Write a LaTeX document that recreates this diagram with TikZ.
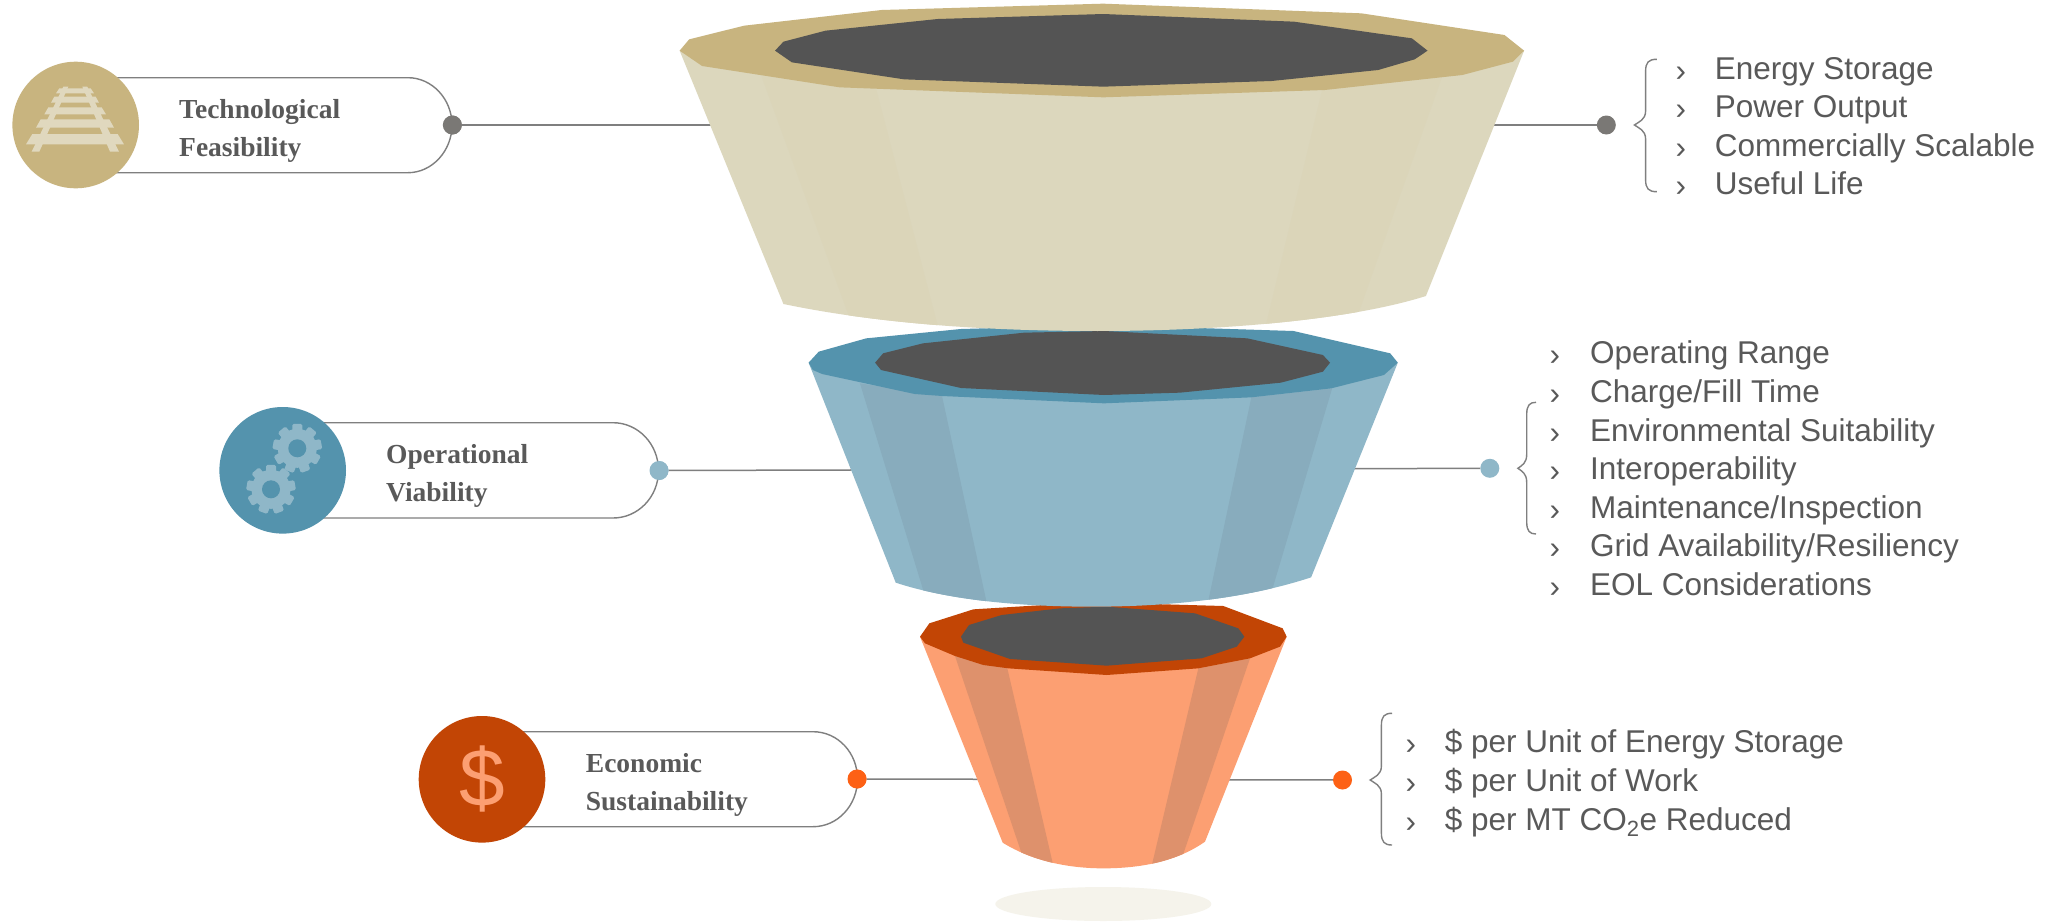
\documentclass[tikz,border=0pt]{standalone}
\usepackage{fontspec}
\setmainfont{Liberation Sans}
\newfontfamily\serifb[BoldFont={Liberation Serif Bold}]{Liberation Serif}
\definecolor{txt}{HTML}{595959}
\definecolor{linec}{HTML}{7F7F7F}
\definecolor{darkc}{HTML}{545454}
\definecolor{tanring}{HTML}{C8B47F}
\definecolor{tanbody}{HTML}{DCD7BD}
\definecolor{tanband}{HTML}{DBD5B9}
\definecolor{tanicon}{HTML}{E0D8BE}
\definecolor{bluering}{HTML}{5493AD}
\definecolor{bluebody}{HTML}{8FB7C8}
\definecolor{blueband}{HTML}{88ACBD}
\definecolor{orring}{HTML}{C24505}
\definecolor{orbody}{HTML}{FC9F72}
\definecolor{orband}{HTML}{DE916C}
\definecolor{ordot}{HTML}{FD6115}
\definecolor{greydot}{HTML}{7A7875}
\definecolor{shadowc}{HTML}{F5F3EB}
\tikzset{
  x=1pt,y=-1pt,
  disc/.style={circle,inner sep=0pt,minimum size=126.6pt},
  endpt/.style={circle,inner sep=0pt,minimum size=19pt},
  conn/.style={draw=linec,line width=1.5pt},
  pill/.style={draw=linec,line width=1.4pt,fill=white},
  brace/.style={draw=linec,line width=1.4pt},
  head/.style={anchor=west,inner sep=0pt,align=left,text=txt,font=\fontsize{27.5}{38}\selectfont\serifb\bfseries},
  item/.style={anchor=base west,inner sep=0pt,text=txt,font=\fontsize{31.5}{38}\selectfont},
  chev/.style={anchor=base west,inner sep=0pt,text=txt,font=\fontsize{31.5}{38}\selectfont},
}
\newcommand{\bracepath}[6]{% tip spine end top mid bot
  \draw[brace] (#3,#4) .. controls (#2+3,#4) and (#2,#4+3) .. (#2,#4+12) -- (#2,#5-14)
    .. controls (#2,#5-5) and (#1+4,#5-3) .. (#1,#5)
    .. controls (#1+4,#5+3) and (#2,#5+5) .. (#2,#5+14) -- (#2,#6-12)
    .. controls (#2,#6-3) and (#2+3,#6) .. (#3,#6);}
\newcommand{\gearat}[3]{%
  \fill[bluebody] (#1,#2) circle[radius=19.5];
  \foreach \a in {0,40,...,320}{
    \fill[bluebody,rotate around={\a:(#1,#2)},rounded corners=1.5pt] (#1-5,#2-24.5) rectangle (#1+5,#2-15);
  }
  \fill[#3] (#1,#2) circle[radius=9];}
\begin{document}
\begin{tikzpicture}
\useasboundingbox[fill=white] (0,0) rectangle (2050,921);

% end points and connectors
\node[endpt,fill=greydot] (dl1) at (452.3,125) {};
\node[endpt,fill=greydot] (dr1) at (1606.3,125) {};
\node[endpt,fill=bluebody] (dl2) at (659,470.5) {};
\node[endpt,fill=bluebody] (dr2) at (1489.8,468.3) {};
\node[endpt,fill=ordot] (dl3) at (857,779) {};
\node[endpt,fill=ordot] (dr3) at (1342.5,780) {};
\begin{scope}[on background layer/.style={}]
\draw[conn] (dl1) -- (dr1);
\draw[conn] (dl2) -- (dr2);
\draw[conn] (dl3) -- (dr3);
\end{scope}

% pills
\draw[pill] (75,77.7) -- (408,77.7) .. controls (432,77.7) and (452,99) .. (452,125)
  .. controls (452,151) and (432,172.7) .. (408,172.7) -- (75,172.7);
\draw[pill] (282,422.7) -- (613,422.7) .. controls (638,422.7) and (658.5,444) .. (658.5,470.5)
  .. controls (658.5,497) and (638,518) .. (613,518) -- (282,518);
\draw[pill] (482,731.7) -- (813,731.7) .. controls (838,731.7) and (857.5,753) .. (857.5,779)
  .. controls (857.5,805) and (838,826.7) .. (813,826.7) -- (482,826.7);
\node[endpt,fill=greydot] at (dl1) {};
\node[endpt,fill=bluebody] at (dl2) {};
\node[endpt,fill=ordot] at (dl3) {};

% discs and icons
\node[disc,fill=tanring] (c1) at (75.7,125) {};
\begin{scope}[shift={(0,50)},xscale=1/3,yscale=1/3]
  \fill[tanicon] (190,110) -- (205,110) -- (118,305) -- (95,305) -- cycle;
  \fill[tanicon] (247,110) -- (262,110) -- (357,305) -- (330,305) -- cycle;
  \fill[tanicon] (178,115) -- (272,115) -- (282,130) -- (168,130) -- cycle;
  \fill[tanicon] (163,140) -- (287,140) -- (297,158) -- (153,158) -- cycle;
  \fill[tanicon] (145,172) -- (305,172) -- (318,193) -- (133,193) -- cycle;
  \fill[tanicon] (122,208) -- (328,208) -- (342,233) -- (108,233) -- cycle;
  \fill[tanicon] (97,252) -- (353,252) -- (372,283) -- (78,283) -- cycle;
\end{scope}
\node[disc,fill=bluering] (c2) at (282.7,470.3) {};
\gearat{297.3}{448.3}{bluering}
\gearat{271}{489.3}{bluering}
\node[disc,fill=orring,text=orbody,font=\fontsize{82}{82}\selectfont] (c3) at (482,779.3) {\$};

% heading labels
\node[head] (h1) at (179,130.5) {Technological\\Feasibility};
\node[head] (h2) at (386,476) {Operational\\Viability};
\node[head] (h3) at (585.7,784.5) {Economic\\Sustainability};

% shadow
\fill[shadowc] (1103.3,904) ellipse[x radius=108,y radius=17];

% orange funnel
\begin{scope}[shift={(900,600)},xscale=1/3,yscale=1/3]
  \def\bodyp{(60,110) -- (308,728) .. controls (400,785) and (510,805) .. (610,805) .. controls (720,805) and (830,785) .. (915,725) -- (1160,110) -- cycle}
  \fill[orbody] \bodyp;
  \begin{scope}
    \clip \bodyp;
    \fill[orband] (165,168) -- (322,205) -- (470,840) -- (385,820) -- cycle;
    \fill[orband] (895,205) -- (1050,175) -- (830,820) -- (745,840) -- cycle;
  \end{scope}
  \fill[orring] (60,110) -- (88,70) -- (220,28) -- (480,12) -- (620,8) -- (970,18) -- (1148,85) -- (1160,110) -- (1140,140) -- (1050,175) -- (895,205) -- (620,225) -- (325,205) -- (250,195) -- (165,168) -- (75,130) -- cycle;
  \fill[darkc] (183,110) -- (207,75) -- (305,45) -- (480,25) -- (620,20) -- (885,40) -- (1015,85) -- (1033,110) -- (1010,140) -- (905,175) -- (620,197) -- (330,177) -- (190,128) -- cycle;
\end{scope}

% blue funnel
\begin{scope}[shift={(780,320)},xscale=1/2.376,yscale=1/3]
  \def\bodyp{(68,128) -- (275,788) .. controls (400,840) and (570,860) .. (740,860) .. controls (930,860) and (1110,835) .. (1262,772) -- (1468,128) -- cycle}
  \fill[bluebody] \bodyp;
  \begin{scope}
    \clip \bodyp;
    \fill[blueband] (190,190) -- (385,228) -- (500,900) -- (362,900) -- cycle;
    \fill[blueband] (1120,232) -- (1312,205) -- (1148,900) -- (1008,900) -- cycle;
  \end{scope}
  \fill[bluering] (68,128) -- (92,95) -- (205,55) -- (430,27) -- (770,15) -- (1220,33) -- (1450,100) -- (1468,128) -- (1435,165) -- (1310,205) -- (1120,232) -- (770,250) -- (385,228) -- (320,222) -- (100,162) -- (78,150) -- cycle;
  \fill[darkc] (226,128) -- (245,100) -- (340,70) -- (580,38) -- (770,33) -- (1110,55) -- (1290,105) -- (1307,128) -- (1290,155) -- (1190,188) -- (950,218) -- (770,225) -- (430,204) -- (240,150) -- cycle;
\end{scope}

% tan funnel
\begin{scope}[shift={(660,0)},xscale=1/1.782,yscale=1/3]
  \def\bodyp{(35,152) -- (220,912) .. controls (400,975) and (600,993) .. (780,993) .. controls (1000,993) and (1230,960) .. (1365,888) -- (1540,152) -- cycle}
  \fill[tanbody] \bodyp;
  \begin{scope}
    \clip \bodyp;
    \fill[tanband] (180,225) -- (385,265) -- (500,1010) -- (350,1010) -- cycle;
    \fill[tanband] (1180,270) -- (1395,225) -- (1230,1010) -- (1075,1010) -- cycle;
  \end{scope}
  \fill[tanring] (35,152) -- (52,118) -- (150,77) -- (395,30) -- (790,11) -- (1250,40) -- (1505,105) -- (1540,152) -- (1520,185) -- (1430,225) -- (1185,270) -- (790,292) -- (320,262) -- (75,198) -- cycle;
  \fill[darkc] (205,152) -- (220,125) -- (295,92) -- (495,57) -- (790,42) -- (1130,65) -- (1340,115) -- (1368,152) -- (1345,178) -- (1280,210) -- (1090,243) -- (790,260) -- (435,238) -- (235,187) -- cycle;
\end{scope}

% braces
\bracepath{1634.4}{1645.6}{1656.8}{59.3}{125}{191.7}
\bracepath{1517.9}{1526.7}{1536}{402.3}{468.3}{534}
\bracepath{1370.2}{1381.4}{1392}{713.3}{780}{845}

% lists
\foreach \n/\y/\t in {a1/79.3/Energy Storage,a2/117.7/Power Output,a3/156/Commercially Scalable,a4/194.3/Useful Life}{
  \node[chev] (\n c) at (1675.5,\y+2) {›};
  \node[item] (\n) at (1714.7,\y) {\t};
}
\foreach \n/\y/\t in {b1/363.3/Operating Range,b2/402.7/Charge\slash Fill Time,b3/441/Environmental Suitability,b4/479.3/Interoperability,b5/518.3/Maintenance\slash Inspection,b6/556.7/Grid Availability\slash Resiliency,b7/595/EOL Considerations}{
  \node[chev] (\n c) at (1549.5,\y+2) {›};
  \node[item] (\n) at (1589.8,\y) {\t};
}
\foreach \n/\y/\t in {d1/752.7/\$ per Unit of Energy Storage,d2/791.7/\$ per Unit of Work,d3/830/\$ per MT CO\textsubscript{2}e Reduced}{
  \node[chev] (\n c) at (1405.5,\y+2) {›};
  \node[item] (\n) at (1444.6,\y) {\t};
}
\end{tikzpicture}
\end{document}
